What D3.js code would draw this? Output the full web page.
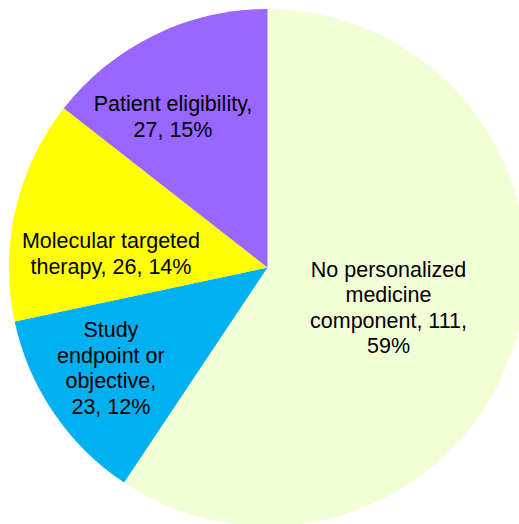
<!DOCTYPE html>
<html>
<head>
<meta charset="utf-8">
<script src="https://d3js.org/d3.v7.min.js"></script>
<style>
  body { margin: 0; background: #fff; }
  .chart { width: 519px; height: 524px; overflow: hidden; }
  .lbl { font-family: "Liberation Sans", Arial, sans-serif; font-size: 21.5px; fill: #000; }
</style>
</head>
<body>
<div class="chart"></div>
<script>
// slices, clockwise from 12 o'clock
var categories = ["No personalized medicine component", "Study endpoint or objective",
                  "Molecular targeted therapy", "Patient eligibility"];
var counts = [111, 23, 26, 27];
var percents = ["59%", "12%", "14%", "15%"];
// label text as wrapped in the chart
var labelLines = [
  ["No personalized", "medicine", "component, 111,", "59%"],
  ["Study", "endpoint or", "objective,", "23, 12%"],
  ["Molecular targeted", "therapy, 26, 14%"],
  ["Patient eligibility,", "27, 15%"]
];

var colors = ["#F2FED6", "#00B0F0", "#FFFF00", "#9966FF"];
// where each label block sits: angle (deg, clockwise from top), distance as share of radius
var labelAt = [[108.3, 0.493], [237.3, 0.72], [275.1, 0.608], [328, 0.69]];

var width = 519, height = 524,
    cx = 267.5, cy = 267.5,
    radius = 258.5,
    lineH = 25.5;

var svg = d3.select(".chart").append("svg")
            .attr("width", width)
            .attr("height", height);

var g = svg.append("g")
           .attr("transform", "translate(" + cx + "," + cy + ")");

var pie = d3.pie()
            .sort(null)
            .value(function(d) { return d; });

var arc = d3.arc()
            .innerRadius(0)
            .outerRadius(radius);

g.selectAll(".slice")
  .data(pie(counts))
  .enter().append("path")
  .attr("class", "slice")
  .attr("d", arc)
  .attr("fill", function(d, i) { return colors[i]; });

var labels = g.selectAll(".lbl")
  .data(labelLines)
  .enter().append("text")
  .attr("class", "lbl")
  .attr("text-anchor", "middle")
  .attr("transform", function(d, i) {
     var a = labelAt[i][0] * Math.PI / 180,
         r = labelAt[i][1] * radius;
     return "translate(" + (r * Math.sin(a)) + "," + (-r * Math.cos(a)) + ")";
   });

labels.selectAll("tspan")
  .data(function(d) { return d; })
  .enter().append("tspan")
  .attr("x", 0)
  .attr("y", function(d, j, nodes) {
     var n = nodes.length;
     return (j - (n - 1) / 2) * lineH;
   })
  .attr("dy", "0.35em")
  .text(function(d) { return d; });
</script>
</body>
</html>
